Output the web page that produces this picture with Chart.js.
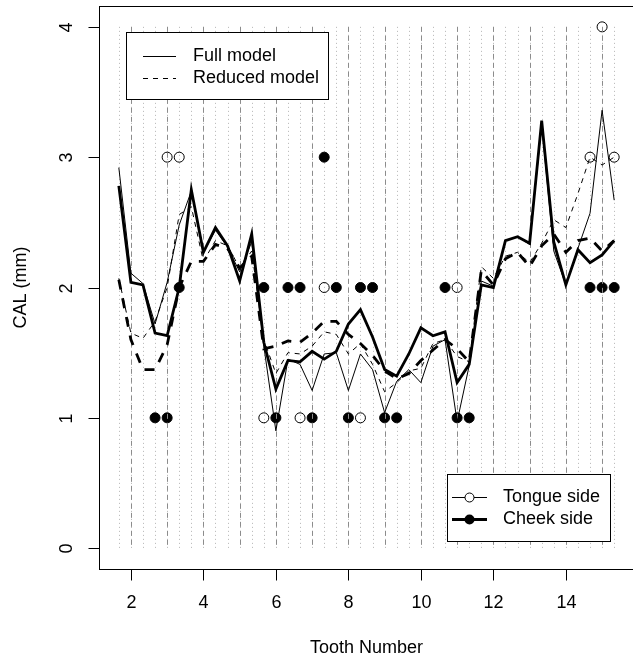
<!DOCTYPE html>
<html>
<head>
<meta charset="utf-8">
<script src="https://cdn.jsdelivr.net/npm/chart.js@4/dist/chart.umd.min.js"></script>
<style>
  html, body { margin: 0; padding: 0; background: #fff; overflow: hidden; }
  #wrap { width: 640px; height: 660px; }
</style>
</head>
<body>
<div id="wrap"><canvas id="grafico" width="640" height="660"></canvas></div>
<script>
// three sites per tooth: mesial, middle, distal
const sitePositions = [
  1.667, 2, 2.333, 2.667, 3, 3.333, 3.667, 4, 4.333, 4.667, 5, 5.333,
  5.667, 6, 6.333, 6.667, 7, 7.333, 7.667, 8, 8.333, 8.667, 9, 9.333,
  9.667, 10, 10.333, 10.667, 11, 11.333, 11.667, 12, 12.333, 12.667, 13, 13.333,
  13.667, 14, 14.333, 14.667, 15, 15.333
];
const teeth = [2, 3, 4, 5, 6, 7, 8, 9, 10, 11, 12, 13, 14, 15];
const xTicks = [2, 4, 6, 8, 10, 12, 14];
const yTicks = [0, 1, 2, 3, 4];

const fullTongue = [
  2.92, 2.11, 2.03,  1.72, 2.04, 2.48,  2.74, 2.27, 2.44,  2.31, 2.12, 2.35,
  1.55, 0.90, 1.45,  1.41, 1.21, 1.49,  1.50, 1.21, 1.49,  1.37, 1.04, 1.28,
  1.37, 1.27, 1.55,  1.60, 0.97, 1.40,  2.05, 2.01, 2.36,  2.39, 2.33, 3.25,
  2.28, 2.02, 2.30,  2.57, 3.36, 2.67
];
const fullCheek = [
  2.78, 2.04, 2.02,  1.65, 1.63, 2.00,  2.75, 2.27, 2.46,  2.32, 2.05, 2.41,
  1.58, 1.22, 1.44,  1.43, 1.51, 1.45,  1.51, 1.72, 1.83,  1.62, 1.37, 1.32,
  1.49, 1.69, 1.63,  1.66, 1.27, 1.41,  2.02, 2.00, 2.36,  2.39, 2.34, 3.28,
  2.35, 2.02, 2.29,  2.19, 2.25, 2.36
];
const reducedTongue = [
  2.07, 1.65, 1.61,  1.74, 2.00, 2.56,  2.62, 2.20, 2.36,  2.32, 2.15, 2.28,
  1.60, 1.34, 1.50,  1.49, 1.55, 1.66,  1.64, 1.49, 1.57,  1.41, 1.20, 1.27,
  1.36, 1.38, 1.57,  1.60, 1.47, 1.43,  2.16, 2.07, 2.24,  2.27, 2.19, 2.34,
  2.52, 2.46, 2.72,  3.00, 2.94, 3.00
];
const reducedCheek = [
  2.06, 1.60, 1.37,  1.37, 1.56, 2.00,  2.20, 2.20, 2.33,  2.30, 2.15, 2.24,
  1.53, 1.55, 1.59,  1.58, 1.65, 1.74,  1.74, 1.64, 1.57,  1.48, 1.36, 1.30,
  1.34, 1.44, 1.52,  1.60, 1.53, 1.43,  2.13, 2.02, 2.22,  2.27, 2.16, 2.32,
  2.41, 2.27, 2.36,  2.38, 2.28, 2.36
];
const tongueObs = [
  null, null, null,  null, 3, 3,  null, null, null,  null, null, null,
  1, null, null,  1, null, 2,  null, null, 1,  null, null, null,
  null, null, null,  null, 2, null,  null, null, null,  null, null, null,
  null, null, null,  3, 4, 3
];
const cheekObs = [
  null, null, null,  1, 1, 2,  null, null, null,  null, null, null,
  2, 1, 2,  2, 1, 3,  2, 1, 2,  2, 1, 1,
  null, null, null,  2, 1, 1,  null, null, null,  null, null, null,
  null, null, null,  2, 2, 2
];

const FONTE = '18px "Liberation Sans", Arial, Helvetica, sans-serif';

function pontos(valores) {
  return sitePositions.map((x, i) => ({ x: x, y: valores[i] }));
}

function verticais(chart, posicoes, cor, tracejado) {
  const ctx = chart.ctx;
  const xs = chart.scales.x, ys = chart.scales.y;
  const y0 = ys.getPixelForValue(0), y4 = ys.getPixelForValue(4);
  ctx.save();
  ctx.lineWidth = 1;
  ctx.strokeStyle = cor;
  ctx.setLineDash(tracejado);
  posicoes.forEach(s => {
    const px = Math.round(xs.getPixelForValue(s)) + 0.5;
    ctx.beginPath(); ctx.moveTo(px, y4); ctx.lineTo(px, y0); ctx.stroke();
  });
  ctx.restore();
}

function linha(ctx, x1, x2, y, largura, tracejado) {
  ctx.save();
  ctx.lineWidth = largura;
  ctx.setLineDash(tracejado);
  ctx.beginPath(); ctx.moveTo(x1, y); ctx.lineTo(x2, y); ctx.stroke();
  ctx.restore();
}

const pluginR = {
  id: 'pluginR',
  beforeDatasetsDraw(chart) {
    verticais(chart, sitePositions, '#b4b4b4', [1, 3]);
  },
  afterDatasetDraw(chart, args) {
    if (args.index === 4) verticais(chart, teeth, '#8c8c8c', [5, 4]);
  },
  afterDraw(chart) {
    const ctx = chart.ctx;
    const a = chart.chartArea;
    const xs = chart.scales.x, ys = chart.scales.y;
    ctx.save();
    ctx.strokeStyle = '#000';
    ctx.fillStyle = '#000';
    ctx.lineWidth = 1;
    ctx.setLineDash([]);
    ctx.strokeRect(Math.round(a.left) + 0.5, Math.round(a.top) + 0.5,
      Math.round(a.right - a.left), Math.round(a.bottom - a.top));

    ctx.font = FONTE;
    ctx.textAlign = 'center';
    ctx.textBaseline = 'middle';
    const base = Math.round(a.bottom) + 0.5;
    xTicks.forEach(t => {
      const px = Math.round(xs.getPixelForValue(t)) + 0.5;
      ctx.beginPath(); ctx.moveTo(px, base); ctx.lineTo(px, base + 11); ctx.stroke();
      ctx.fillText(String(t), px, 603);
    });
    const esq = Math.round(a.left) + 0.5;
    yTicks.forEach(t => {
      const py = Math.round(ys.getPixelForValue(t)) + 0.5;
      ctx.beginPath(); ctx.moveTo(esq, py); ctx.lineTo(esq - 11, py); ctx.stroke();
      ctx.save();
      ctx.translate(67, py);
      ctx.rotate(-Math.PI / 2);
      ctx.fillText(String(t), 0, 0);
      ctx.restore();
    });
    ctx.fillText('Tooth Number', (a.left + a.right) / 2, 648);
    ctx.save();
    ctx.translate(21, (a.top + a.bottom) / 2);
    ctx.rotate(-Math.PI / 2);
    ctx.fillText('CAL (mm)', 0, 0);
    ctx.restore();

    // legenda dos modelos
    ctx.fillStyle = '#fff';
    ctx.fillRect(126, 32, 202, 67);
    ctx.fillStyle = '#000';
    ctx.strokeRect(126.5, 32.5, 202, 67);
    ctx.textAlign = 'left';
    linha(ctx, 143, 176, 56.5, 1, []);
    linha(ctx, 143, 176, 78.5, 1, [5, 5]);
    ctx.fillText('Full model', 193, 56);
    ctx.fillText('Reduced model', 193, 78);

    // legenda dos lados
    ctx.fillStyle = '#fff';
    ctx.fillRect(447, 474, 163, 67);
    ctx.fillStyle = '#000';
    ctx.strokeRect(447.5, 474.5, 163, 67);
    linha(ctx, 452, 487, 497.5, 1, []);
    linha(ctx, 452, 487, 519.5, 2.8, []);
    ctx.fillStyle = '#fff';
    ctx.beginPath(); ctx.arc(469.5, 497.5, 4.5, 0, Math.PI * 2); ctx.fill(); ctx.stroke();
    ctx.fillStyle = '#000';
    ctx.beginPath(); ctx.arc(469.5, 519.5, 5, 0, Math.PI * 2); ctx.fill();
    ctx.fillText('Tongue side', 503, 497);
    ctx.fillText('Cheek side', 503, 519);
    ctx.restore();
  }
};

new Chart(document.getElementById('grafico'), {
  type: 'line',
  data: {
    datasets: [
      { label: 'Full model - tongue', data: pontos(fullTongue), borderColor: '#000',
        borderWidth: 1, pointRadius: 0, tension: 0, fill: false },
      { label: 'Full model - cheek', data: pontos(fullCheek), borderColor: '#000',
        borderWidth: 2.8, pointRadius: 0, tension: 0, fill: false },
      { label: 'Reduced model - tongue', data: pontos(reducedTongue), borderColor: '#000',
        borderWidth: 1, borderDash: [5, 5], pointRadius: 0, tension: 0, fill: false },
      { label: 'Reduced model - cheek', data: pontos(reducedCheek), borderColor: '#000',
        borderWidth: 2.8, borderDash: [10, 9], pointRadius: 0, tension: 0, fill: false },
      { label: 'Tongue side', data: pontos(tongueObs), showLine: false, pointStyle: 'circle',
        pointRadius: 5, pointBorderWidth: 1, pointBorderColor: '#000',
        pointBackgroundColor: 'rgba(0,0,0,0)' },
      { label: 'Cheek side', data: pontos(cheekObs), showLine: false, pointStyle: 'circle',
        pointRadius: 5, pointBorderWidth: 1, pointBorderColor: '#000',
        pointBackgroundColor: '#000' }
    ]
  },
  options: {
    responsive: false,
    animation: false,
    devicePixelRatio: 1,
    layout: { padding: { left: 99, top: 4, right: 4, bottom: 91 } },
    plugins: { legend: { display: false }, tooltip: { enabled: false } },
    scales: {
      x: { type: 'linear', min: 1.12, max: 15.88, display: false },
      y: { type: 'linear', min: -0.16, max: 4.16, display: false }
    }
  },
  plugins: [pluginR]
});
</script>
</body>
</html>
